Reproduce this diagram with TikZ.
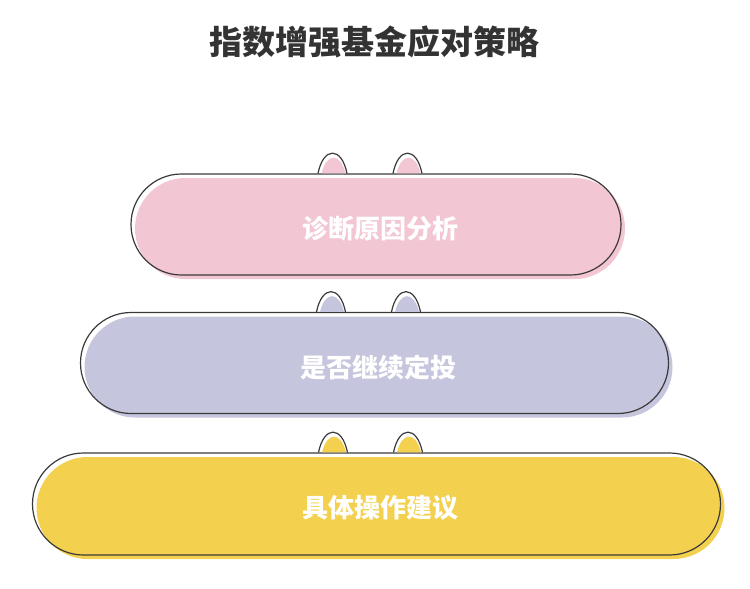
\documentclass[tikz,border=0pt]{standalone}
\usepackage{fontspec}
\usepackage{xcolor}
\usepackage{tikz}
\usetikzlibrary{shapes.misc, positioning, calc}
\newfontfamily\cjk{Noto Sans CJK SC}

\definecolor{titolo}{HTML}{333333}
\definecolor{bordo}{HTML}{3A3A3A}
\definecolor{rosa}{HTML}{F2C6D2}
\definecolor{lilla}{HTML}{C5C5DD}
\definecolor{giallo}{HTML}{F3D14F}

\begin{document}
\begin{tikzpicture}[x=1pt,y=-1pt,
    pillola/.style={rounded rectangle,inner sep=0pt,minimum height=101pt,
        text=white,font=\cjk\bfseries\fontsize{26}{30}\selectfont},
    contorno/.style={rounded rectangle,inner sep=0pt,minimum height=101pt,
        draw=bordo,line width=1.2pt}]
    \useasboundingbox (0,0) rectangle (750,589);

    % Titolo
    \node[text=titolo,font=\cjk\bfseries\fontsize{33}{40}\selectfont] (titolo) at (374,42) {指数增强基金应对策略};

    % Riempimenti
    \node[pillola,fill=rosa,minimum width=490pt] (p1) at (380,228.5) {诊断原因分析};
    \node[pillola,fill=lilla,minimum width=588pt] (p2) at (378.5,367) {是否继续定投};
    \node[pillola,fill=giallo,minimum width=688pt,minimum height=102pt] (p3) at (380.5,508) {具体操作建议};

    % Contorni spostati
    \node[contorno,minimum width=490pt] (c1) at ($(p1)+(-4,-4)$) {};
    \node[contorno,minimum width=588pt] (c2) at ($(p2)+(-4,-4)$) {};
    \node[contorno,minimum width=688pt,minimum height=102pt] (c3) at ($(p3)+(-4,-4)$) {};

    % Orecchie
    \foreach \c/\col in {c1/rosa, c2/lilla, c3/giallo} {
        \foreach \dx in {-43.5, 31.5} {
            \begin{scope}[shift={($(\c.north)+(\dx,0)$)}]
                \fill[\col] (-11,0) .. controls (-6,-21) and (8,-21) .. (13,0) -- cycle;
                \draw[bordo,line width=1.2pt] (-14.5,0) .. controls (-9,-27) and (9,-27) .. (14.5,0);
            \end{scope}
        }
    }
\end{tikzpicture}
\end{document}
